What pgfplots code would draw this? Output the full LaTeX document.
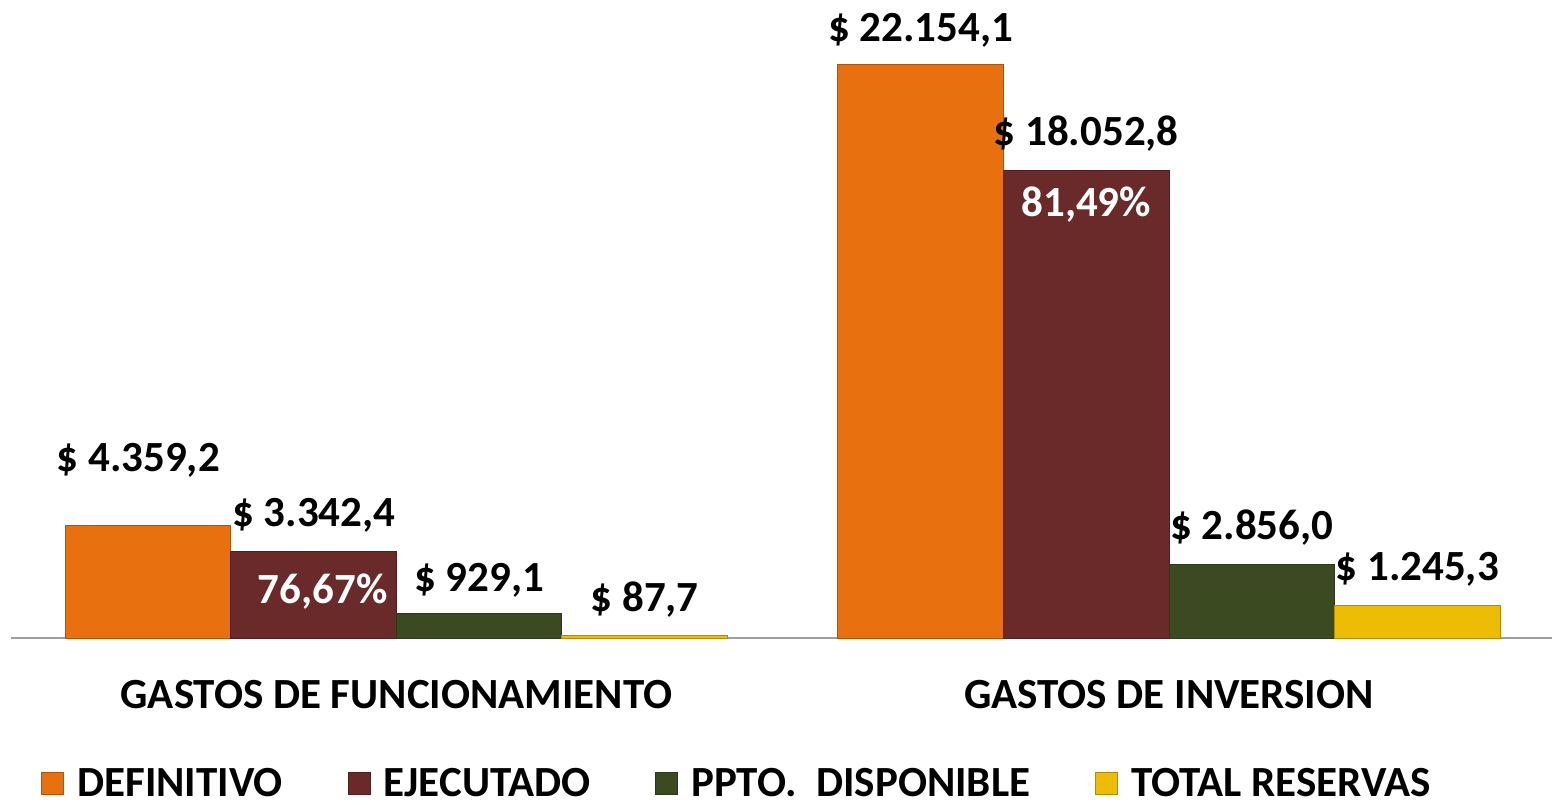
\documentclass[border=0pt]{standalone}
\usepackage{fontspec}
\setmainfont{Carlito}
\usepackage{pgfplots}
\usepackage{pgfplotstable}
\pgfplotsset{compat=1.18}
\definecolor{cdef}{HTML}{E8700F}
\definecolor{ceje}{HTML}{6B2A2A}
\definecolor{cppto}{HTML}{3C4A21}
\definecolor{cres}{HTML}{EDBC05}
\newcommand{\bigf}{\fontsize{43}{51}\selectfont\bfseries}

\pgfplotstableread{
x y dx dy
0 4359.2 -10 45
1 22154.1 0 14.5
}\tdef
\pgfplotstableread{
x y dx dy
0 3342.4 0 16.5
1 18052.8 0 16.5
}\teje
\pgfplotstableread{
x y dx dy
0 929.1 0 14
1 2856.0 0 16.5
}\tppto
\pgfplotstableread{
x y dx dy
0 87.7 0 16
1 1245.3 0 16.5
}\tres
\pgfplotstableread{
x y p dx dy
0 3342.4 76.67 9 -60.5
1 18052.8 81.49 0 -54.3
}\tpct

\pgfplotsset{
  vallab/.style={
    point meta=y,
    visualization depends on={\thisrow{dx}\as\labdx},
    visualization depends on={\thisrow{dy}\as\labdy},
    nodes near coords={\$ \pgfmathprintnumber{\pgfplotspointmeta}},
    nodes near coords style={font=\bigf, text=black, inner sep=2pt, xshift=\labdx*1pt, yshift=\labdy*1pt},
  },
}

\begin{document}
\begin{tikzpicture}
\begin{axis}[
  scale only axis, width=1541pt, height=638pt,
  xmin=-0.499, xmax=1.4958, ymin=0, ymax=24637,
  axis y line=none, axis x line*=bottom,
  x axis line style={-, draw=black!38, line width=2.5pt},
  ybar=0pt, bar width=165.5pt,
  xtick={0,1}, xticklabels={GASTOS DE FUNCIONAMIENTO, GASTOS DE INVERSION},
  major tick length=0pt,
  xticklabel style={font=\bigf, anchor=center, yshift=-57pt},
  clip=false,
  /pgf/number format/use comma,
  /pgf/number format/1000 sep={.},
  /pgf/number format/fixed,
  /pgf/number format/fixed zerofill,
  /pgf/number format/precision=1,
  /pgf/number format/assume math mode=true,
  legend columns=4,
  legend style={draw=none, fill=none, font=\bigf, at={(0,0)}, anchor=west,
    xshift=30pt, yshift=-145pt, inner sep=0pt,
    nodes={inner sep=1pt},
    /tikz/every odd column/.append style={column sep=12pt},
    /tikz/every even column/.append style={column sep=64pt}},
  legend image code/.code={\draw[#1, line width=1pt] (0pt,-11pt) rectangle (22pt,11pt);},
]
\addplot[forget plot, fill=cdef, draw=cdef!75!black, line width=1pt, bar shift=-248.25pt, vallab] table[x=x,y=y] {\tdef};
\addplot[forget plot, fill=ceje, draw=ceje!75!black, line width=1pt, bar shift=-82.75pt, vallab] table[x=x,y=y] {\teje};
\addplot[forget plot, fill=cppto, draw=cppto!75!black, line width=1pt, bar shift=82.75pt, vallab] table[x=x,y=y] {\tppto};
\addplot[forget plot, fill=cres, draw=cres!75!black, line width=1pt, bar shift=248.25pt, vallab] table[x=x,y=y] {\tres};
\addplot[forget plot, draw=none, fill=none, bar shift=-82.75pt, point meta=explicit,
  visualization depends on={\thisrow{dx}\as\labdx},
  visualization depends on={\thisrow{dy}\as\labdy},
  nodes near coords={\pgfmathprintnumber[fixed,fixed zerofill,precision=2,use comma]{\pgfplotspointmeta}\%},
  nodes near coords style={font=\bigf, text=white, inner sep=2pt, xshift=\labdx*1pt, yshift=\labdy*1pt}]
  table[x=x,y=y,meta=p] {\tpct};
\addlegendimage{fill=cdef, draw=cdef!75!black}
\addlegendimage{fill=ceje, draw=ceje!75!black}
\addlegendimage{fill=cppto, draw=cppto!75!black}
\addlegendimage{fill=cres, draw=cres!75!black}
\legend{DEFINITIVO, EJECUTADO, PPTO.\ \ DISPONIBLE, TOTAL RESERVAS}
\end{axis}
\pgfresetboundingbox
\path[use as bounding box] (-11pt,-166pt) rectangle (1541pt,638pt);
\end{tikzpicture}
\end{document}
